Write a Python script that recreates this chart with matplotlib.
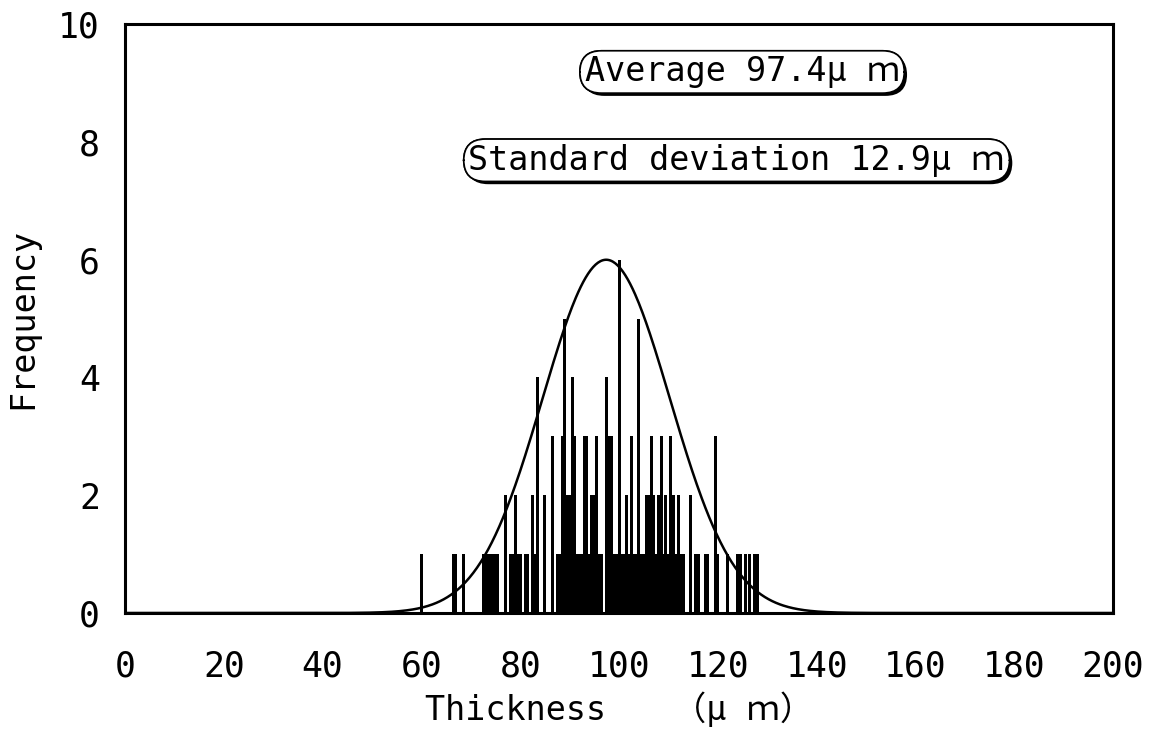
import numpy as np
import matplotlib
matplotlib.use('Agg')
import matplotlib.pyplot as plt
from matplotlib import patheffects

# thickness (um) of each measured value and how often it occurred
thickness = [60.0, 66.5, 67.0, 68.5,
             72.5, 73.0, 73.5, 74.0, 74.5, 75.0, 75.5,
             77.0, 78.0, 78.5, 79.0, 79.5, 80.0, 81.0, 81.5,
             82.5, 83.0, 83.5, 85.0, 86.5,
             87.5, 88.0, 88.5, 89.0, 89.5, 90.0, 90.5, 91.0, 91.5, 92.0,
             92.5, 93.0, 93.5, 94.0, 94.5, 95.0, 95.5, 96.0, 96.5,
             97.5, 98.0, 98.5, 99.0, 99.5, 100.0, 100.5, 101.0, 101.5, 102.0,
             102.5, 103.0, 103.5, 104.0, 104.5, 105.0, 105.5, 106.0, 106.5,
             107.0, 107.5, 108.0, 108.5, 109.0, 109.5, 110.0, 110.5, 111.0,
             111.5, 112.0, 112.5, 113.0, 114.5, 115.5, 116.0, 117.5, 118.0,
             119.5, 120.0, 122.0, 124.0, 124.5, 125.5, 126.5, 127.5, 128.0]
frequency = [1, 1, 1, 1,
             1, 1, 1, 1, 1, 1, 1,
             2, 1, 1, 2, 1, 1, 1, 1,
             2, 1, 4, 2, 3,
             1, 1, 3, 5, 2, 2, 4, 3, 1, 1,
             1, 3, 3, 1, 2, 2, 3, 1, 1,
             4, 3, 3, 1, 1, 6, 1, 1, 2, 1,
             3, 1, 1, 5, 1, 1, 2, 2, 3,
             2, 1, 2, 3, 1, 2, 1, 3, 2,
             1, 2, 1, 1, 2, 1, 1, 1, 1,
             3, 1, 1, 1, 1, 1, 1, 1, 1]

mean_um = 97.4
sd_um = 12.9
curve_peak = 6.0

xticks = [0, 20, 40, 60, 80, 100, 120, 140, 160, 180, 200]
yticks = [0, 2, 4, 6, 8, 10]

mono = ['DejaVu Sans Mono', 'Noto Sans CJK JP']

fig = plt.figure(figsize=(11.53, 7.35), dpi=100)
ax = fig.add_axes([0.1084, 0.166, 0.857, 0.801])

ax.bar(thickness, frequency, width=0.6, color='black', linewidth=0)

# fitted normal curve from the stated average and standard deviation
xs = np.linspace(0, 200, 801)
ax.plot(xs, curve_peak * np.exp(-(xs - mean_um) ** 2 / (2 * sd_um ** 2)),
        color='black', lw=1.8)

ax.set_xlim(0, 200)
ax.set_ylim(0, 10)
ax.set_xticks(xticks)
ax.set_yticks(yticks)
ax.tick_params(length=0)
ax.tick_params(axis='x', pad=26)
ax.tick_params(axis='y', pad=18)
for lab in ax.get_xticklabels() + ax.get_yticklabels():
    lab.set_family(mono)
    lab.set_fontsize(25)
for sp in ax.spines.values():
    sp.set_linewidth(2.2)

ax.set_xlabel('Thickness\u3000\u3000\uff08\u03bc \uff4d\uff09', family=mono, fontsize=24, labelpad=6)
ax.set_ylabel('Frequency', family=mono, fontsize=24, labelpad=14)

for txt, x, y in [('Average 97.4\u03bc \uff4d', 124.9, 9.19),
                  ('Standard deviation 12.9\u03bc \uff4d', 123.8, 7.69)]:
    t = ax.text(x, y, txt, family=mono, fontsize=24, ha='center', va='center',
                bbox=dict(boxstyle='round,pad=0.14,rounding_size=0.65',
                          fc='white', ec='black', lw=1.2))
    t.get_bbox_patch().set_path_effects([
        patheffects.withSimplePatchShadow(offset=(2, -2), shadow_rgbFace='black', alpha=1),
        patheffects.Normal()])

fig.savefig('out.png', dpi=100)
